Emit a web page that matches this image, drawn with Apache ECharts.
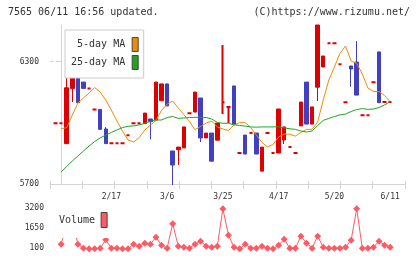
<!DOCTYPE html>
<html>
<head>
<meta charset="utf-8">
<script src="https://cdn.jsdelivr.net/npm/echarts@6/dist/echarts.min.js"></script>
<style>
  html, body { margin: 0; padding: 0; background: #fff; }
  #chart { width: 420px; height: 259px; }
</style>
</head>
<body>
<div id="chart"></div>
<script>
// trading day index (position on the time axis)
const days = [-1, 0, 1, 2, 3, 4, 5, 6, 7, 8, 9, 10, 11, 12, 13, 14, 15, 16, 17, 18, 19,
  20, 21, 22, 23, 24, 25, 26, 27, 28, 29, 30, 31, 32, 33, 34, 35, 36, 37, 38, 39,
  40, 41, 42, 43, 44, 45, 46, 47, 48, 49, 50, 51, 52, 53, 54, 55, 56, 57, 58, 59]

const opens = [5998, 5998, 5898, 6169, 6259, 6200, 6169, 6066, 6066, 5970, 5900, 5900, 5900, 5939, 5998, 5998,
  5996, 6019, 6014, 6109, 6191, 5862, 5868, 5877, 6047, 6053, 6122, 5926, 5950, 5915, 6101,
  6078, 6181, 5852, 5940, 5950, 5950, 5763, 5950, 5852, 5852, 5916, 5881, 5852, 5985, 6200,
  5994, 6175, 6274, 6390, 6390, 6288, 6101, 6279, 6298, 6037, 6037, 6199, 6348, 6102, 6102]
const closes = [5998, 5998, 6172, 6259, 6099, 6169, 6169, 6066, 5968, 5898, 5900, 5900, 5900, 5939, 5998, 5998,
  6048, 6006, 6200, 6191, 6083, 5793, 5881, 5980, 6047, 6151, 5926, 5950, 5812, 5999, 6101,
  6078, 5994, 5852, 5847, 5950, 5847, 5881, 5950, 5852, 6068, 5980, 5881, 5852, 6102, 5994,
  6078, 6480, 6328, 6390, 6390, 6288, 6101, 6264, 6136, 6037, 6037, 6199, 6099, 6102, 6102]
const lows = [5998, 5998, 5898, 6102, 6099, 6169, 6169, 6066, 5968, 5898, 5900, 5900, 5900, 5939, 5998, 5998,
  5996, 5919, 6014, 6109, 6083, 5695, 5793, 5877, 6047, 6053, 5906, 5926, 5812, 5915, 6043,
  5999, 5994, 5852, 5847, 5950, 5847, 5763, 5950, 5852, 5852, 5896, 5881, 5852, 5985, 5994,
  5994, 6107, 6274, 6390, 6390, 6288, 6101, 6177, 6136, 6037, 6037, 6199, 6099, 6102, 6102]
const highs = [5998, 5998, 6297, 6272, 6259, 6200, 6169, 6066, 6066, 5979, 5900, 5900, 5900, 5939, 5998, 5998,
  6048, 6019, 6200, 6191, 6191, 5862, 5881, 5980, 6047, 6151, 6122, 5950, 5950, 5999, 6382,
  6078, 6181, 5852, 5940, 5950, 5950, 5881, 5950, 5852, 6068, 5980, 5881, 5852, 6102, 6200,
  6078, 6480, 6328, 6390, 6390, 6288, 6101, 6279, 6401, 6037, 6037, 6199, 6348, 6102, 6102]

const ma5 = [null, 5970, 5977, 6038, 6097, 6122, 6146, 6173, 6151, 6112, 6063, 6009, 5960, 5916, 5906, 5928,
  5965, 5989, 6012, 6061, 6092, 6107, 6073, 6041, 6007, 5967, 5982, 5999, 6009, 5980, 5970,
  5962, 5989, 6001, 6001, 5977, 5940, 5904, 5882, 5894, 5931, 5945, 5944, 5935, 5953, 5968,
  5968, 6004, 6112, 6210, 6274, 6341, 6377, 6303, 6292, 6240, 6171, 6154, 6153, 6134, 6104]
const ma25 = [null, 5759, 5786, 5813, 5837, 5862, 5886, 5908, 5926, 5940, 5953, 5965, 5977, 5983, 5985, 5990,
  5998, 6007, 6014, 6014, 6026, 6031, 6022, 6024, 6026, 6027, 6027, 6026, 6019, 6002, 5998,
  5998, 5991, 5987, 5984, 5980, 5979, 5980, 5980, 5980, 5981, 5975, 5971, 5968, 5960, 5955,
  5960, 5987, 6012, 6022, 6031, 6039, 6043, 6056, 6065, 6070, 6066, 6068, 6075, 6088, 6104]

const volumes = [null, 410, 1900, 2200, 410, 100, 50, 50, 100, 743, 100, 100, 50, 50, 410, 255,
  488, 410, 952, 332, 100, 1983, 255, 178, 100, 410, 643, 255, 178, 255, 3146,
  1108, 178, 50, 410, 100, 100, 255, 100, 50, 332, 798, 100, 100, 1030, 488,
  100, 1030, 178, 100, 100, 100, 178, 720, 3146, 100, 100, 178, 643, 332, 178]

const labelDays = [9, 19, 29, 39, 49, 59]
const dateLabels = ['2/17', '3/6', '3/25', '4/17', '5/20', '6/11']
const priceTicks = [5700, 6300]
const volumeTicks = [100, 1650, 3200]

const RED = '#dd0000'
const BLUE = '#4040c0'
const ORANGE = '#f08c00'
const GREEN = '#1ea51e'
const VOLC = '#ff5a64'
const AXIS = '#d4d4d4'
const FONT = 'DejaVu Sans Mono'
const X0 = -2, X1 = 61.66

const candleData = days.map((d, k) => {
  const item = { value: [d, opens[k], closes[k], lows[k], highs[k]] }
  // doji: draw as a red dash
  if (opens[k] === closes[k]) {
    item.itemStyle = { borderWidth: 2, borderColor: RED, borderColor0: RED, color: RED, color0: RED }
  }
  return item
})
const pairs = arr => days.map((d, k) => [d, arr[k]]).filter(p => p[1] != null)

const label = { fontFamily: FONT, fontSize: 8, color: '#333', formatter: v => String(v) }
const legendText = { fontFamily: FONT, fontSize: 10, color: '#333' }
const headText = { fontFamily: FONT, fontSize: 10, fill: '#333', verticalAlign: 'middle' }

const chart = echarts.init(document.getElementById('chart'))
chart.setOption({
  animation: false,
  graphic: [
    { type: 'text', left: 8, top: 7, style: Object.assign({ text: '7565 06/11 16:56 updated.' }, headText) },
    { type: 'text', x: 410, y: 12.5, style: Object.assign({ text: '(C)https://www.rizumu.net/', align: 'right' }, headText) }
  ],
  legend: [
    {
      data: [{ name: '5-day MA', icon: 'rect' }, { name: '25-day MA', icon: 'rect' }],
      orient: 'vertical', align: 'right', left: 65, top: 30,
      itemWidth: 6, itemHeight: 14, itemGap: 3, padding: [7, 5, 8, 6],
      borderColor: '#cccccc', borderWidth: 1, backgroundColor: '#fff',
      textStyle: Object.assign({ padding: [0, 2, 0, 0] }, legendText),
      itemStyle: { borderColor: '#444', borderWidth: 1 },
      selectedMode: false
    },
    {
      data: [{ name: 'Volume', icon: 'rect' }],
      align: 'right', left: 54, top: 206,
      itemWidth: 6, itemHeight: 15, padding: [6, 4, 10, 5],
      backgroundColor: '#fff',
      textStyle: Object.assign({ padding: [0, 1, 0, 0] }, legendText),
      itemStyle: { borderColor: '#444', borderWidth: 1 },
      selectedMode: false
    }
  ],
  grid: [
    { left: 50, top: 25, width: 355, height: 159 },
    { left: 50, top: 208, width: 355, height: 41.5 }
  ],
  xAxis: [
    {
      type: 'value', gridIndex: 0, position: 'bottom', min: X0, max: X1,
      axisLine: { show: false }, axisTick: { show: false }, splitLine: { show: false },
      axisLabel: Object.assign({}, label, {
        customValues: labelDays, margin: 9,
        formatter: v => dateLabels[labelDays.indexOf(v)]
      })
    },
    {
      type: 'value', gridIndex: 0, position: 'bottom', min: 0, max: 11, interval: 1,
      axisLine: { show: true, lineStyle: { color: AXIS } },
      axisTick: { inside: true, length: 3, lineStyle: { color: AXIS } },
      axisLabel: { show: false }, splitLine: { show: false }
    },
    {
      type: 'value', gridIndex: 0, position: 'bottom', min: 0, max: 11, interval: 1,
      axisLine: { show: false },
      axisTick: { length: 5, lineStyle: { color: AXIS } },
      axisLabel: { show: false }, splitLine: { show: false }
    },
    { type: 'value', gridIndex: 1, min: X0, max: X1, show: false }
  ],
  yAxis: [
    {
      type: 'value', gridIndex: 0, position: 'left', min: 5700, max: 6480,
      axisLine: { show: true, lineStyle: { color: AXIS } },
      axisTick: { length: 5, customValues: priceTicks, lineStyle: { color: AXIS } },
      axisLabel: Object.assign({ customValues: priceTicks, margin: 11 }, label),
      splitLine: { show: false }
    },
    {
      type: 'value', gridIndex: 0, position: 'left', min: 5700, max: 6480,
      axisLine: { show: false },
      axisTick: { inside: true, length: 3, customValues: [6300], lineStyle: { color: AXIS } },
      axisLabel: { show: false }, splitLine: { show: false }
    },
    {
      type: 'value', gridIndex: 1, min: 0, max: 3200,
      axisLine: { show: false }, axisTick: { show: false },
      axisLabel: Object.assign({ customValues: volumeTicks, margin: 6 }, label),
      splitLine: { show: false }
    }
  ],
  series: [
    {
      name: 'price', type: 'candlestick', xAxisIndex: 0, yAxisIndex: 0,
      barWidth: 4, clip: false,
      itemStyle: { color: RED, color0: BLUE, borderColor: RED, borderColor0: BLUE, borderWidth: 1 },
      data: candleData
    },
    {
      name: '5-day MA', type: 'line', xAxisIndex: 0, yAxisIndex: 0,
      symbol: 'none', color: ORANGE, lineStyle: { width: 1, color: ORANGE },
      data: pairs(ma5)
    },
    {
      name: '25-day MA', type: 'line', xAxisIndex: 0, yAxisIndex: 0,
      symbol: 'none', color: GREEN, lineStyle: { width: 1, color: GREEN },
      data: pairs(ma25)
    },
    {
      name: 'Volume', type: 'line', xAxisIndex: 3, yAxisIndex: 2,
      symbol: 'diamond', symbolSize: 7, clip: false, color: VOLC,
      itemStyle: { color: VOLC }, lineStyle: { width: 1, color: VOLC },
      data: pairs(volumes)
    }
  ]
})
window.onresize = () => {
  chart.resize()
}
</script>
</body>
</html>
